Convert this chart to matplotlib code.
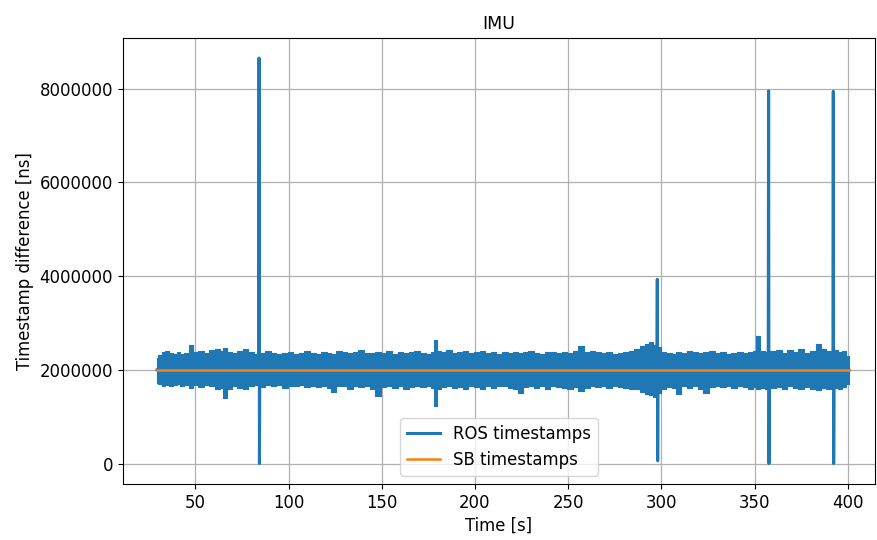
import matplotlib
matplotlib.use("Agg")
import matplotlib.pyplot as plt
import numpy as np

matplotlib.rc('font', size=11.9)

# envelope of the dense ROS timestamp noise band (in 1e6 ns)
band_t = [29.5, 31, 33, 35, 37, 39, 41, 43, 45, 48, 50, 53, 56, 59, 62, 64, 66, 68, 71, 74,
          77, 80, 83, 86, 89, 92, 95, 98, 101, 104, 107, 110, 113, 116, 119, 122, 124, 127, 130, 133,
          136, 139, 142, 145, 148, 151, 154, 157, 160, 163, 166, 169, 172, 175, 177.5, 179, 180.5, 183, 186, 189,
          192, 195, 198, 201, 204, 207, 210, 213, 216, 219, 222, 224, 227, 230, 233, 236, 239, 242, 245, 248,
          251, 254, 257, 260, 263, 266, 269, 272, 275, 278, 281, 284, 287, 290, 292, 294.5, 296, 299, 301, 304,
          307, 309, 312, 315, 318, 321, 324, 327, 330, 333, 336, 339, 342, 345, 348, 350, 352, 354, 357, 360,
          363, 366, 369, 372, 375, 378, 381, 384.5, 387, 390, 393, 396, 398, 400.5]
band_hi = [2.25, 2.32, 2.37, 2.40, 2.36, 2.34, 2.38, 2.33, 2.36, 2.52, 2.38, 2.40, 2.36, 2.42, 2.44, 2.40, 2.46, 2.38, 2.35, 2.40,
           2.44, 2.37, 2.34, 2.36, 2.40, 2.35, 2.33, 2.36, 2.38, 2.34, 2.36, 2.40, 2.35, 2.33, 2.38, 2.36, 2.34, 2.40, 2.37, 2.35,
           2.38, 2.42, 2.36, 2.35, 2.39, 2.36, 2.40, 2.34, 2.38, 2.36, 2.38, 2.40, 2.35, 2.34, 2.38, 2.64, 2.40, 2.37, 2.42, 2.36,
           2.38, 2.40, 2.35, 2.37, 2.41, 2.36, 2.38, 2.34, 2.37, 2.36, 2.39, 2.35, 2.38, 2.40, 2.36, 2.34, 2.37, 2.38, 2.35, 2.38,
           2.36, 2.40, 2.50, 2.38, 2.40, 2.37, 2.36, 2.38, 2.34, 2.36, 2.38, 2.40, 2.45, 2.50, 2.55, 2.60, 2.52, 2.48, 2.38, 2.36,
           2.34, 2.38, 2.36, 2.40, 2.38, 2.36, 2.37, 2.40, 2.36, 2.38, 2.34, 2.36, 2.38, 2.36, 2.38, 2.40, 2.72, 2.40, 2.38, 2.40,
           2.42, 2.36, 2.42, 2.38, 2.44, 2.36, 2.40, 2.55, 2.44, 2.40, 2.42, 2.38, 2.40, 2.30]
band_lo = [1.72, 1.70, 1.66, 1.68, 1.65, 1.67, 1.70, 1.66, 1.68, 1.62, 1.67, 1.64, 1.68, 1.66, 1.58, 1.62, 1.40, 1.60, 1.65, 1.62,
           1.58, 1.66, 1.68, 1.64, 1.67, 1.65, 1.68, 1.62, 1.66, 1.65, 1.68, 1.64, 1.66, 1.63, 1.66, 1.62, 1.53, 1.66, 1.65, 1.58,
           1.66, 1.63, 1.66, 1.60, 1.45, 1.64, 1.66, 1.62, 1.66, 1.58, 1.64, 1.66, 1.63, 1.66, 1.62, 1.22, 1.60, 1.64, 1.66, 1.62,
           1.64, 1.60, 1.66, 1.63, 1.58, 1.66, 1.62, 1.65, 1.66, 1.62, 1.58, 1.51, 1.64, 1.66, 1.62, 1.65, 1.60, 1.66, 1.63, 1.62,
           1.58, 1.64, 1.55, 1.62, 1.66, 1.63, 1.65, 1.62, 1.66, 1.64, 1.62, 1.60, 1.58, 1.52, 1.48, 1.46, 1.42, 1.50, 1.60, 1.64,
           1.62, 1.49, 1.65, 1.62, 1.66, 1.60, 1.51, 1.64, 1.66, 1.63, 1.65, 1.62, 1.66, 1.64, 1.60, 1.63, 1.58, 1.62, 1.60, 1.62,
           1.64, 1.58, 1.66, 1.62, 1.58, 1.64, 1.60, 1.56, 1.62, 1.58, 1.62, 1.60, 1.64, 1.70]

# ROS timestamp differences with the large outliers (1e6 ns)
ros_t = [29.5, 84.0, 84.2, 84.4, 84.6, 297.6, 297.8, 298.0, 298.2,
         357.3, 357.5, 357.7, 357.9, 392.0, 392.2, 392.4, 392.6, 400.5]
ros_v = [2.0, 2.0, 8.65, 0.0, 2.0, 2.0, 3.93, 0.06, 2.0,
         2.0, 7.95, 0.0, 2.0, 2.0, 7.94, 0.0, 2.0, 2.0]

# SB timestamp differences
sb_t = [29.5, 400.5]
sb_v = [2.0, 2.0]

fig, ax = plt.subplots(figsize=(8.77, 5.4), dpi=100)

ax.fill_between(band_t, np.array(band_lo) * 1e6, np.array(band_hi) * 1e6,
                step="mid", color="#1f77b4", linewidth=0.8, edgecolor="#1f77b4", zorder=2)
ax.plot(ros_t, np.array(ros_v) * 1e6, color="#1f77b4", lw=2.2, label="ROS timestamps")
ax.plot(sb_t, np.array(sb_v) * 1e6, color="#ff7f0e", lw=1.8, label="SB timestamps")

ax.ticklabel_format(style="plain", axis="y", useOffset=False)
ax.set_xlim(11.1, 414.7)
ax.grid(True, color="#b0b0b0", lw=0.9)
ax.set_title("IMU", fontsize=12.5)
ax.set_xlabel("Time [s]")
ax.set_ylabel("Timestamp difference [ns]")
ax.legend(loc="lower center")

fig.subplots_adjust(left=0.140, right=0.998, top=0.930, bottom=0.104)
fig.savefig("out.png", dpi=100)
